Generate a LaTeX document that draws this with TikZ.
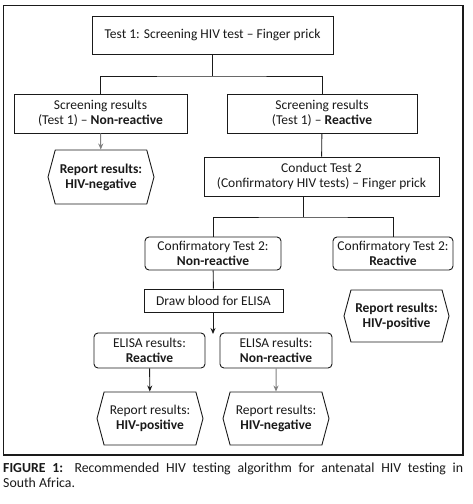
\documentclass[tikz,border=0pt]{standalone}
\usepackage{fontspec}
\setmainfont{Carlito}
\usetikzlibrary{arrows.meta,shapes.symbols}
\definecolor{linegray}{HTML}{808080}
\definecolor{ink}{HTML}{1A1A1A}
\tikzset{
  box/.style={draw=ink,line width=0.9pt,align=center,inner sep=0pt,text=ink,font=\fontsize{13.5}{15}\selectfont},
  rbox/.style={box,rounded corners=4pt},
  hexa/.style={draw=ink,line width=0.9pt,align=center,inner sep=0pt,text=ink,font=\fontsize{13.5}{15}\selectfont,
    shape=signal,signal to=west and east,signal pointer angle=150},
  conn/.style={draw=ink,line width=0.9pt},
  arr/.style={conn,-{Stealth[length=6pt,width=5pt]}},
  garr/.style={draw=linegray,line width=1pt,-{Stealth[length=6pt,width=5pt]}},
}
\begin{document}
\begin{tikzpicture}[x=1pt,y=-1pt]
\useasboundingbox[fill=white] (0,0) rectangle (473,504);
\draw[draw=ink,line width=1.3pt] (3.5,5.5) rectangle (463,455);

\node[box,minimum width=241pt,minimum height=38pt] (t1) at (212.5,35) {Test 1: Screening HIV test – Finger prick};
\node[box,minimum width=173pt,minimum height=39pt] (s1) at (100.5,113.5) {Screening results\\(Test 1) – \textbf{Non-reactive}};
\node[box,minimum width=190pt,minimum height=39pt] (s2) at (322,113.5) {Screening results\\(Test 1) – \textbf{Reactive}};
\node[hexa,minimum width=106pt,minimum height=54pt] (h1) at (101,177) {\textbf{Report results:}\\\textbf{HIV-negative}};
\node[box,minimum width=235pt,minimum height=39pt] (c2) at (321.5,176.5) {Conduct Test 2\\(Confirmatory HIV tests) – Finger prick};
\node[rbox,minimum width=136pt,minimum height=33pt] (cnr) at (213,253.5) {Confirmatory Test 2:\\\textbf{Non-reactive}};
\node[rbox,minimum width=120pt,minimum height=33pt] (cr) at (393,253.5) {Confirmatory Test 2:\\\textbf{Reactive}};
\node[box,minimum width=139pt,minimum height=23pt] (db) at (213.5,300.5) {Draw blood for ELISA};
\node[hexa,minimum width=105pt,minimum height=52pt] (h2) at (396.5,316) {\textbf{Report results:}\\\textbf{HIV-positive}};
\node[rbox,minimum width=111pt,minimum height=35pt] (er) at (149.5,350.5) {ELISA results:\\\textbf{Reactive}};
\node[rbox,minimum width=112pt,minimum height=35pt] (enr) at (276,350.5) {ELISA results:\\\textbf{Non-reactive}};
\node[hexa,minimum width=106pt,minimum height=53pt] (h3) at (150,418.5) {Report results:\\\textbf{HIV-positive}};
\node[hexa,minimum width=106pt,minimum height=53pt] (h4) at (276,418.5) {Report results:\\\textbf{HIV-negative}};

\coordinate (j1) at (212,76);
\coordinate (j2) at (303,217);
\coordinate (e1) at (213,334);

\draw[conn] (t1.south -| j1) -- (j1);
\draw[conn] (s1.north) |- (j1) -| (s2.north);
\draw[garr] (s1) -- (h1);
\draw[conn] (s2) -- (c2);
\draw[conn] (c2.south -| j2) -- (j2);
\draw[conn] (cnr.north) |- (j2) -| (cr.north);
\draw[conn] (cnr) -- (db);
\draw[arr] (db.south -| e1) -- (e1);
\draw[arr] (er) -- (h3);
\draw[garr] (enr) -- (h4);

\node[anchor=north west,inner sep=0pt,text width=460pt,align=justify,text=ink,font=\fontsize{13.8}{15}\selectfont] (cap) at (3,463)
{\textbf{FIGURE 1:} Recommended HIV testing algorithm for antenatal HIV testing in\linebreak South Africa.};
\end{tikzpicture}
\end{document}
